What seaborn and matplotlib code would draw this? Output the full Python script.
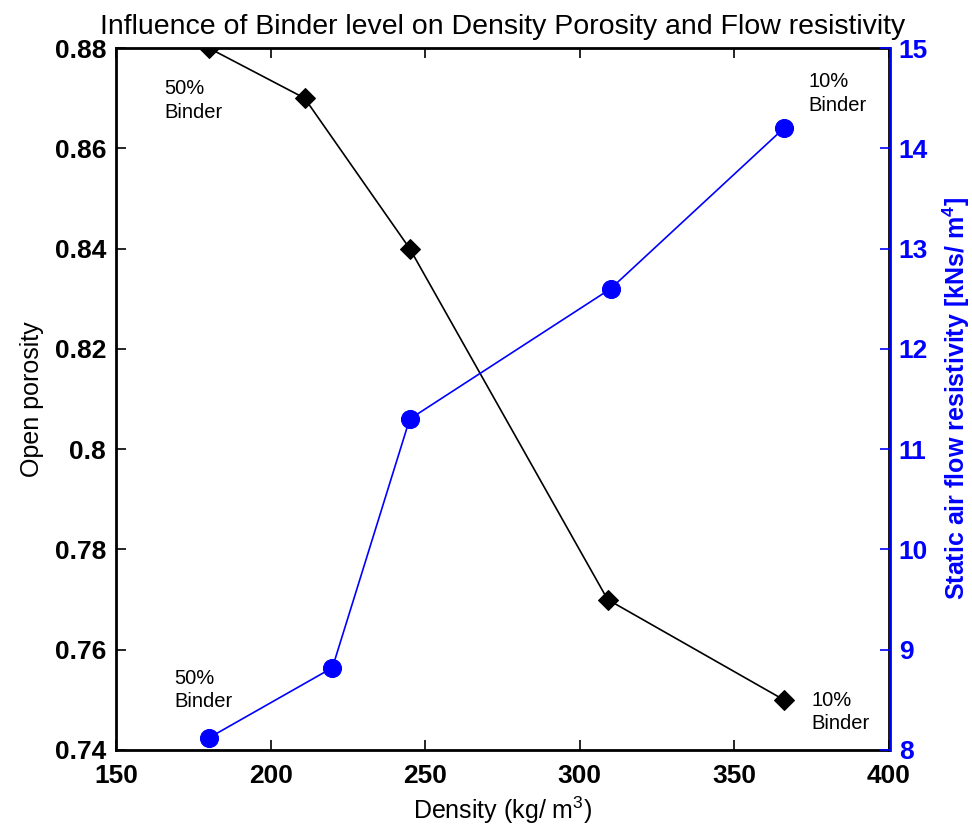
import matplotlib
matplotlib.use("Agg")
import matplotlib.pyplot as plt
import seaborn as sns
import pandas as pd

# ---- data ----
density_porosity = [180, 211, 245, 309, 366]
open_porosity = [0.88, 0.870, 0.840, 0.770, 0.750]
density_flow = [180, 220, 245, 310, 366]
flow_resistivity = [8.12, 8.82, 11.30, 12.60, 14.20]
left_ticks = [0.74, 0.76, 0.78, 0.80, 0.82, 0.84, 0.86, 0.88]
left_tick_labels = ["0.74", "0.76", "0.78", "0.8", "0.82", "0.84", "0.86", "0.88"]
right_ticks = [8, 9, 10, 11, 12, 13, 14, 15]
x_ticks = [150, 200, 250, 300, 350, 400]
annotation_texts = ["50%\nBinder", "50%\nBinder", "10%\nBinder", "10%\nBinder"]

df_por = pd.DataFrame({"Density": density_porosity, "Porosity": open_porosity})
df_flow = pd.DataFrame({"Density": density_flow, "Flow": flow_resistivity})

sns.set_style("white")
plt.rcParams["font.family"] = ["Liberation Sans", "DejaVu Sans"]
plt.rcParams["mathtext.fontset"] = "custom"
plt.rcParams["mathtext.rm"] = "Liberation Sans"
plt.rcParams["mathtext.bf"] = "Liberation Sans:bold"
for k in ["text.color", "axes.labelcolor", "xtick.color", "ytick.color"]:
    plt.rcParams[k] = "black"

fig = plt.figure(figsize=(9.72, 8.32), dpi=100)
ax = fig.add_axes([0.1193, 0.0986, 0.7953, 0.8437])
ax2 = ax.twinx()

sns.lineplot(data=df_por, x="Density", y="Porosity", ax=ax, color="black",
             marker="D", markersize=10, markeredgecolor="black",
             linewidth=1.2, sort=False)
sns.lineplot(data=df_flow, x="Density", y="Flow", ax=ax2, color="blue",
             marker="o", markersize=13, markeredgecolor="blue",
             linewidth=1.2, sort=False)

ax.set_xlim(150, 400)
ax.set_ylim(0.74, 0.88)
ax2.set_ylim(8, 15)

ax.tick_params(axis="x", direction="in", length=7, width=1.2, pad=10,
               top=True, bottom=True, labelsize=19)
ax.tick_params(axis="y", direction="in", length=7, width=1.2, pad=7,
               left=True, right=False, labelsize=19)
ax2.tick_params(axis="y", direction="in", length=7, width=1.2, pad=6,
                color="blue", labelcolor="blue", labelsize=19,
                right=True, left=False, labelright=True, labelleft=False)
ax2.tick_params(axis="x", top=False, bottom=False)

ax.set_xticks(x_ticks, [str(t) for t in x_ticks], fontweight="bold", fontsize=19)
ax.set_yticks(left_ticks, left_tick_labels, fontweight="bold", fontsize=19)
ax2.set_yticks(right_ticks, [str(t) for t in right_ticks], fontweight="bold",
               fontsize=19, color="blue")

for s in ["left", "bottom", "top", "right"]:
    ax.spines[s].set_linewidth(2)
    ax.spines[s].set_color("black")
for s in ["left", "bottom", "top"]:
    ax2.spines[s].set_visible(False)
ax2.spines["right"].set_color("blue")
ax2.spines["right"].set_linewidth(2)
ax2.spines["right"].set_position(("outward", 1))

ax.set_xlabel(r"Density (kg/ m$^3$)", fontsize=18, labelpad=5)
ax.set_ylabel("Open porosity", fontsize=18, labelpad=8)
ax2.set_ylabel(r"Static air flow resistivity [kNs/ m$^\mathbf{4}$]", fontsize=18,
               fontweight="bold", color="blue", labelpad=9)
ax.set_title("Influence of Binder level on Density Porosity and Flow resistivity",
             fontsize=20.5, pad=10)

# annotations (axes positions in data units)
ann_pos = [(165.5, 0.8738), (169, 0.7562), (374, 0.8752), (375, 0.7518)]
for (px, py), txt in zip(ann_pos, annotation_texts):
    ax.text(px, py, txt, fontsize=14.5, ha="left", va="top", color="black",
            linespacing=1.3)

ax.grid(False)
ax2.grid(False)
for lab in ax2.get_yticklabels():
    lab.set_fontweight("bold")
fig.savefig("out.png", dpi=100)
